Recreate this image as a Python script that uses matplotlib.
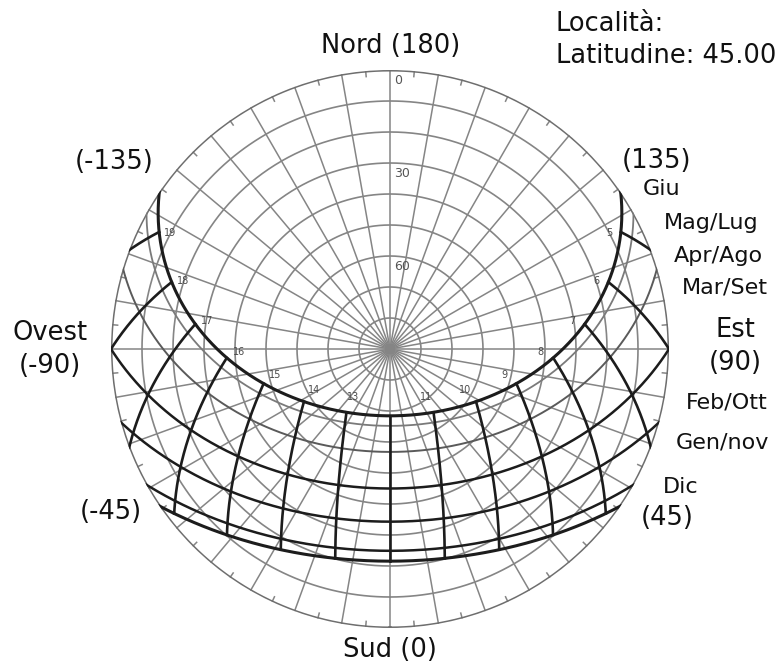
import numpy as np
import matplotlib.pyplot as plt

# site and sun path data
LATITUDE = 45.0
months = ['Giu', 'Mag/Lug', 'Apr/Ago', 'Mar/Set', 'Feb/Ott', 'Gen/nov', 'Dic']
declinations = [23.44, 20.2, 11.8, 0.0, -10.7, -20.1, -23.44]
path_widths = [2.2, 1.3, 1.4, 1.8, 1.8, 1.8, 2.2]
path_colors = ['#1c1c1c', '#7a7a7a', '#5a5a5a', '#1c1c1c', '#1c1c1c', '#1c1c1c', '#1c1c1c']
hours = [5, 6, 7, 8, 9, 10, 11, 12, 13, 14, 15, 16, 17, 18, 19]
altitude_labels = [0, 30, 60]

alt_circles = np.arange(0, 90, 10)
az_lines = np.arange(-180, 180, 10)
az_ticks = np.arange(-175, 180, 10)

GRID = '#858585'
DARK = '#1c1c1c'


def sun_position(dec, ha):
    # returns polar angle (azimuth from south, east positive) and zenith distance
    phi, d, h = np.radians(LATITUDE), np.radians(dec), np.radians(ha)
    sin_alt = np.sin(phi) * np.sin(d) + np.cos(phi) * np.cos(d) * np.cos(h)
    alt = np.degrees(np.arcsin(np.clip(sin_alt, -1, 1)))
    az = np.arctan2(np.sin(h), np.sin(phi) * np.cos(h) - np.cos(phi) * np.tan(d))
    return -az, 90 - alt


fig = plt.figure(figsize=(7.82, 6.69), dpi=100)
cx, cy, rad = 390 / 782, 1 - 349 / 669, 279
ax = fig.add_axes([cx - rad / 782, cy - rad / 669, 2 * rad / 782, 2 * rad / 669],
                  projection='polar')
ax.set_theta_zero_location('S')
ax.set_theta_direction(1)
ax.set_ylim(0, 90)
ax.grid(False)
ax.set_xticks([])
ax.set_yticks([])
ax.spines['polar'].set_visible(False)

# altitude / azimuth grid
t = np.linspace(0, 2 * np.pi, 721)
for a in alt_circles[1:]:
    ax.plot(t, np.full_like(t, 90 - a), color=GRID, lw=1.2, zorder=1)
ax.plot(t, np.full_like(t, 90), color='#6e6e6e', lw=2.2, zorder=2)
for az in az_lines:
    ax.plot([np.radians(az)] * 2, [0, 90], color=GRID, lw=1.1, zorder=1)
for az in az_ticks:
    ax.plot([np.radians(az)] * 2, [88.2, 90], color=GRID, lw=1.1, zorder=1)

# altitude labels along the north meridian
for a in altitude_labels:
    ax.annotate(str(a), xy=(np.pi, 90 - a), xytext=(3, -3), textcoords='offset points',
                ha='left', va='top', fontsize=9, color='#555555', zorder=4)

# sun paths
for dec, lw, col in zip(declinations, path_widths, path_colors):
    hs = np.degrees(np.arccos(-np.tan(np.radians(LATITUDE)) * np.tan(np.radians(dec))))
    ha = np.linspace(-hs, hs, 500)
    th, r = sun_position(dec, ha)
    ax.plot(th, r, color=col, lw=lw, zorder=3 if col == DARK else 2)

# hour lines, from the summer path down to the winter path or the horizon
dec_hi, dec_lo = max(declinations), min(declinations)
for h in hours:
    ha = 15.0 * (h - 12)
    d_min = np.degrees(np.arctan(-np.cos(np.radians(ha)) / np.tan(np.radians(LATITUDE))))
    d_min = max(dec_lo, d_min)
    dec = np.linspace(dec_hi, d_min, 200)
    th, r = sun_position(dec, np.full_like(dec, ha))
    ax.plot(th, r, color=DARK, lw=1.9, zorder=3)
    if h != 12:
        th0, r0 = sun_position(dec_hi, ha)
        ax.text(th0, r0 - 4, str(h), fontsize=7, color='#4a4a4a',
                ha='center', va='bottom', zorder=4)


# orientation labels
def label(x, y, s, size=18.5, ha='center'):
    fig.text(x / 782, 1 - y / 669, s, fontsize=size, ha=ha, va='center', color='#111111')


label(391, 46, 'Nord (180)')
label(390, 650, 'Sud (0)')
label(50, 333, 'Ovest')
label(50, 366, '(-90)')
label(735, 330, 'Est')
label(735, 363, '(90)')
label(114, 162, '(-135)')
label(657, 161, '(135)')
label(111, 512, '(-45)')
label(667, 518, '(45)')
label(556, 24, 'Località:', ha='left')
label(556, 56, 'Latitudine: 45.00', ha='left')

month_pos = [(662, 189), (711, 223), (718, 256), (725, 287), (727, 402), (722, 443), (681, 487)]
for name, (x, y) in zip(months, month_pos):
    label(x, y, name, size=16)

fig.savefig('out.png', dpi=100, facecolor='white')
